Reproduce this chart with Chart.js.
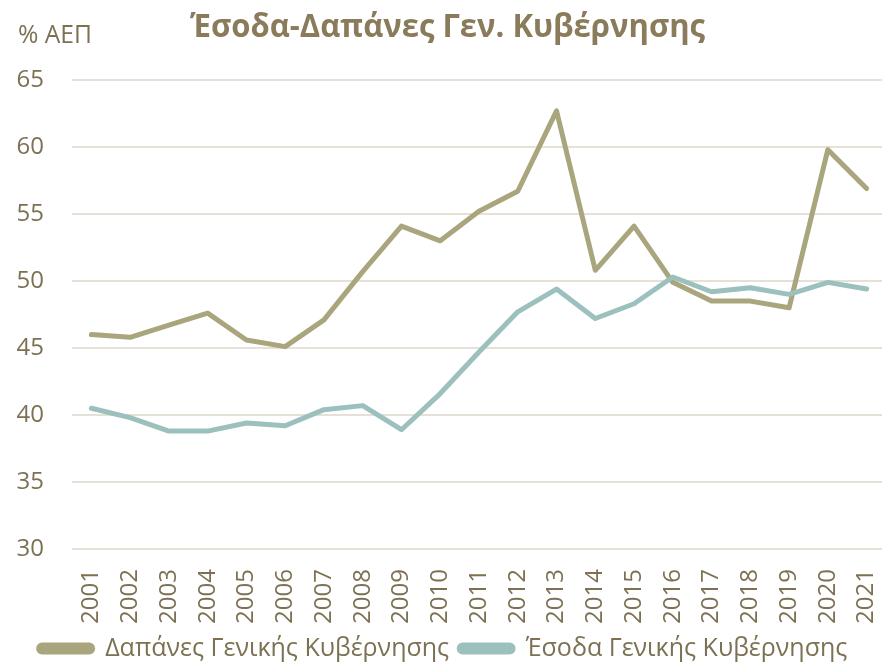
<!DOCTYPE html>
<html>
<head>
<meta charset="utf-8">
<script src="https://cdn.jsdelivr.net/npm/chart.js@4"></script>
<style>
  html, body { margin: 0; padding: 0; background: #fff; overflow: hidden; }
  #wrap { width: 886px; height: 664px; position: relative; }
</style>
</head>
<body>
<div id="wrap"><canvas id="chart"></canvas></div>
<script>
// values (% of GDP)
var years = ['2001','2002','2003','2004','2005','2006','2007','2008','2009','2010','2011',
             '2012','2013','2014','2015','2016','2017','2018','2019','2020','2021'];
var expenditure = [46.0, 45.8, 46.7, 47.6, 45.6, 45.1, 47.1, 50.7, 54.1, 53.0, 55.2,
                   56.7, 62.7, 50.8, 54.1, 49.9, 48.5, 48.5, 48.0, 59.8, 56.9];
var revenue = [40.5, 39.8, 38.8, 38.8, 39.4, 39.2, 40.4, 40.7, 38.9, 41.6, 44.7,
               47.7, 49.4, 47.2, 48.3, 50.3, 49.2, 49.5, 49.0, 49.9, 49.4];
var yMin = 30, yMax = 65, yStep = 5;

var titleText = 'Έσοδα-Δαπάνες Γεν. Κυβέρνησης';
var unitText = '% ΑΕΠ';
var expLabel = 'Δαπάνες Γενικής Κυβέρνησης';
var revLabel = 'Έσοδα Γενικής Κυβέρνησης';

var textColor = '#7d7154';
var fontFamily = "'Open Sans', 'Noto Sans', sans-serif";

// title + unit drawn at fixed spots like the original
var headerPlugin = {
  id: 'header',
  afterDraw: function(chart) {
    var ctx = chart.ctx;
    ctx.save();
    ctx.fillStyle = '#8a7c5a';
    ctx.textBaseline = 'alphabetic';
    ctx.textAlign = 'left';
    ctx.font = 'bold 32px ' + fontFamily;
    ctx.fillText(titleText, 190, 37, 515);
    ctx.fillStyle = textColor;
    ctx.font = '26px ' + fontFamily;
    ctx.fillText(unitText, 18, 43, 74);
    ctx.restore();
  }
};

var ctx = document.getElementById('chart').getContext('2d');
var mychart = new Chart(ctx, {
  type: 'line',
  data: {
    labels: years,
    datasets: [{
      label: revLabel,
      data: revenue,
      borderColor: '#9bc0be',
      backgroundColor: '#9bc0be',
      borderWidth: 5,
      pointRadius: 0,
      tension: 0,
      borderJoinStyle: 'round',
      borderCapStyle: 'round'
    }, {
      label: expLabel,
      data: expenditure,
      borderColor: '#a9a57d',
      backgroundColor: '#a9a57d',
      borderWidth: 5,
      pointRadius: 0,
      tension: 0,
      borderJoinStyle: 'round',
      borderCapStyle: 'round'
    }]
  },
  options: {
    responsive: true,
    maintainAspectRatio: false,
    animation: false,
    layout: { padding: { top: 80, left: 0, right: 0, bottom: -7 } },
    plugins: {
      tooltip: { enabled: false },
      title: { display: false },
      legend: {
        position: 'bottom',
        reverse: true,
        labels: {
          color: textColor,
          font: { family: fontFamily, size: 25 },
          boxWidth: 54,
          boxHeight: 7,
          useBorderRadius: true,
          borderRadius: 3.5,
          padding: 10
        }
      }
    },
    scales: {
      x: {
        offset: true,
        grid: { display: false, drawTicks: false },
        border: { display: false },
        ticks: {
          color: textColor,
          font: { family: fontFamily, size: 24 },
          minRotation: 90,
          maxRotation: 90,
          padding: 20,
          autoSkip: false
        },
        afterFit: function(s) {
          s.height = 77;
          s.paddingLeft = 0;
          s.paddingRight = 0;
        }
      },
      y: {
        min: yMin,
        max: yMax,
        grid: { color: '#e6e1d7', lineWidth: 2, drawTicks: false },
        border: { display: false },
        ticks: {
          stepSize: yStep,
          color: textColor,
          font: { family: fontFamily, size: 24 },
          padding: 28
        },
        afterFit: function(s) { s.width = 72; }
      }
    }
  },
  plugins: [headerPlugin]
});
</script>
</body>
</html>
